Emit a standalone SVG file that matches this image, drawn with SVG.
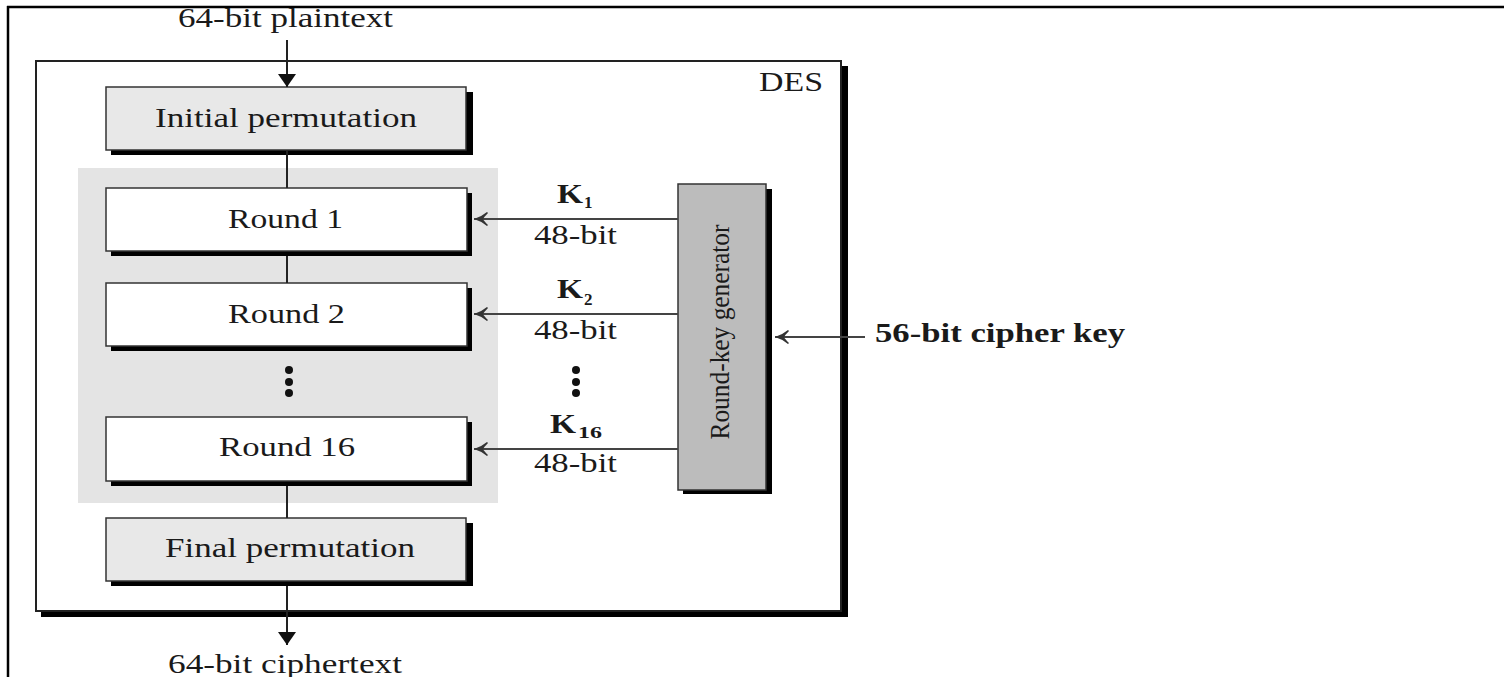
<svg xmlns="http://www.w3.org/2000/svg" width="1504" height="677" viewBox="0 0 1504 677">
<style>
.t{font-family:"Liberation Serif","Times New Roman",serif;font-size:27px;fill:#1a1a1a}
.b{font-weight:bold}
.box{stroke:#333;stroke-width:1.5}
.sh{fill:#000}
.ln{stroke:#222;stroke-width:2;fill:none}
.kl{stroke:#444;stroke-width:2;fill:none}
</style>
<defs>
<marker id="solid" markerWidth="14" markerHeight="18" refX="13" refY="9" orient="auto" markerUnits="userSpaceOnUse">
<path d="M0,0 L13,9 L0,18 z" fill="#111"/>
</marker>
<marker id="barb" markerWidth="16" markerHeight="16" refX="15" refY="8" orient="auto" markerUnits="userSpaceOnUse">
<path d="M15,8 Q8,6 2,1 L1,2 Q5,6 6,8 Q5,10 1,14 L2,15 Q8,10 15,8 z" fill="#333"/>
</marker>
</defs>
<rect width="1504" height="677" fill="#fff"/>
<g id="frame">
<line x1="8" y1="6" x2="8" y2="677" stroke="#000" stroke-width="2.5"/>
<line x1="7" y1="7" x2="1504" y2="7" stroke="#000" stroke-width="2.5"/>
</g>
<g id="des">
<rect class="sh" x="41" y="66" width="807" height="551"/>
<rect x="36" y="61" width="805" height="550" fill="#fff" stroke="#222" stroke-width="2"/>
<text class="t" x="759" y="91" textLength="64" lengthAdjust="spacingAndGlyphs">DES</text>
</g>
<g id="rounds-bg">
<rect x="78" y="168" width="420" height="335" fill="#e4e4e4"/>
</g>
<g id="initial">
<rect class="sh" x="111" y="92" width="362" height="63"/>
<rect class="box" x="106" y="87" width="360" height="63" fill="#e8e8e8"/>
<text class="t" x="155" y="127" textLength="262" lengthAdjust="spacingAndGlyphs">Initial permutation</text>
</g>
<g id="round1">
<rect class="sh" x="111" y="193" width="361" height="63"/>
<rect class="box" x="106" y="188" width="361" height="63" fill="#fff"/>
<text class="t" x="228" y="228" textLength="115" lengthAdjust="spacingAndGlyphs">Round 1</text>
</g>
<g id="round2">
<rect class="sh" x="111" y="288" width="361" height="63"/>
<rect class="box" x="106" y="283" width="361" height="63" fill="#fff"/>
<text class="t" x="228" y="323" textLength="117" lengthAdjust="spacingAndGlyphs">Round 2</text>
</g>
<g id="dots-left" fill="#111">
<circle cx="289" cy="370" r="4"/>
<circle cx="289" cy="382" r="4"/>
<circle cx="289" cy="393" r="4"/>
</g>
<g id="round16">
<rect class="sh" x="111" y="422" width="361" height="64"/>
<rect class="box" x="106" y="417" width="361" height="64" fill="#fff"/>
<text class="t" x="219" y="456" textLength="136" lengthAdjust="spacingAndGlyphs">Round 16</text>
</g>
<g id="final">
<rect class="sh" x="111" y="523" width="362" height="63"/>
<rect class="box" x="106" y="518" width="360" height="63" fill="#e8e8e8"/>
<text class="t" x="165" y="557" textLength="250" lengthAdjust="spacingAndGlyphs">Final permutation</text>
</g>
<g id="keygen">
<rect class="sh" x="683" y="189" width="89" height="305"/>
<rect class="box" x="678" y="184" width="88" height="306" fill="#bcbcbc"/>
<text class="t" transform="translate(729,332) rotate(-90)" text-anchor="middle" textLength="215" lengthAdjust="spacingAndGlyphs">Round-key generator</text>
</g>
<g id="connectors">
<line class="ln" x1="287" y1="40" x2="287" y2="87" marker-end="url(#solid)"/>
<line class="ln" x1="287" y1="151" x2="287" y2="188"/>
<line class="ln" x1="287" y1="256" x2="287" y2="283"/>
<line class="ln" x1="287" y1="486" x2="287" y2="518"/>
<line class="ln" x1="287" y1="586" x2="287" y2="645" marker-end="url(#solid)"/>
<line class="kl" x1="678" y1="219" x2="474" y2="219" marker-end="url(#barb)"/>
<line class="kl" x1="678" y1="314" x2="474" y2="314" marker-end="url(#barb)"/>
<line class="kl" x1="678" y1="449" x2="474" y2="449" marker-end="url(#barb)"/>
<line class="kl" x1="865" y1="337" x2="775" y2="337" marker-end="url(#barb)"/>
</g>
<g id="labels">
<text class="t" x="178" y="27" textLength="215" lengthAdjust="spacingAndGlyphs">64-bit plaintext</text>
<text class="t" x="168" y="673" textLength="234" lengthAdjust="spacingAndGlyphs">64-bit ciphertext</text>
<text class="t b" x="875" y="342" textLength="250" lengthAdjust="spacingAndGlyphs">56-bit cipher key</text>
<text class="t b" x="557" y="203" textLength="26" lengthAdjust="spacingAndGlyphs">K</text>
<text class="t b" x="584" y="208" style="font-size:17px">1</text>
<text class="t" x="534" y="244" textLength="83" lengthAdjust="spacingAndGlyphs">48-bit</text>
<text class="t b" x="557" y="298" textLength="26" lengthAdjust="spacingAndGlyphs">K</text>
<text class="t b" x="584" y="305" style="font-size:17px">2</text>
<text class="t" x="534" y="339" textLength="83" lengthAdjust="spacingAndGlyphs">48-bit</text>
<g fill="#111">
<circle cx="576" cy="370" r="4"/>
<circle cx="576" cy="382" r="4"/>
<circle cx="576" cy="393" r="4"/>
</g>
<text class="t b" x="550" y="433" textLength="26" lengthAdjust="spacingAndGlyphs">K</text>
<text class="t b" x="578" y="438" style="font-size:17px" textLength="24" lengthAdjust="spacingAndGlyphs">16</text>
<text class="t" x="534" y="472" textLength="83" lengthAdjust="spacingAndGlyphs">48-bit</text>
</g>
</svg>
